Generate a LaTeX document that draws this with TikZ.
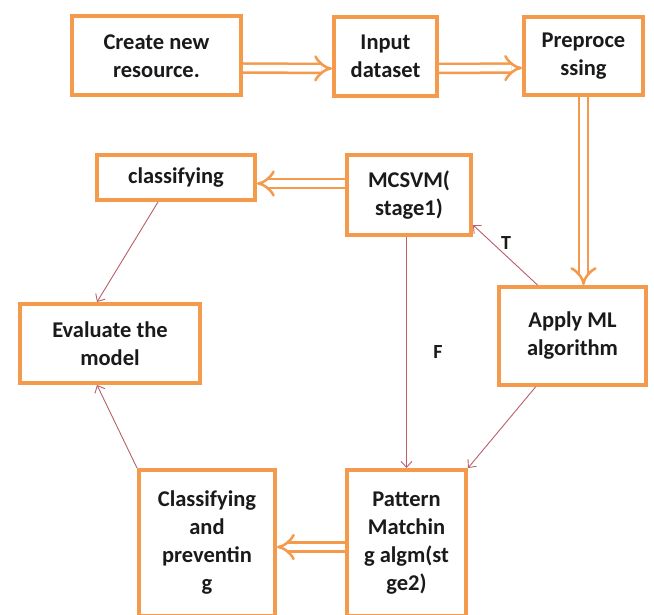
\documentclass[tikz,border=0pt]{standalone}
\usepackage{fontspec}
\setmainfont{Carlito}
\usetikzlibrary{arrows.meta}
\definecolor{boxorange}{HTML}{F39A4D}
\definecolor{thinline}{HTML}{B8606A}
\definecolor{txt}{HTML}{1A1A1A}
\begin{document}
\begin{tikzpicture}[x=1pt,y=-1pt,
  flowbox/.style={draw=boxorange, line width=4pt, fill=white, align=center,
    text=txt, font=\fontsize{22.5}{28}\selectfont\bfseries, inner sep=0pt},
  dbl/.style={draw=boxorange, line width=2.5pt, double=white, double distance=6.5pt,
    -{Implies}},
  thin/.style={draw=thinline, line width=0.9pt, -{Straight Barb[length=6pt,width=11pt]}},
  lbl/.style={text=txt, font=\fontsize{20}{24}\selectfont\bfseries}]
\useasboundingbox (0,0) rectangle (654,615);
\fill[white] (0,0) rectangle (654,615);
% nodes
\node[flowbox, minimum width=169pt, minimum height=79pt] (create) at (156.5,56) {Create new\\resource.};
\node[flowbox, minimum width=103pt, minimum height=79pt] (input) at (385.5,56.5) {Input\\dataset};
\node[flowbox, minimum width=119pt, minimum height=78pt] (pre) at (583.5,56) {Preproce\\ssing};
\node[flowbox, minimum width=158pt, minimum height=45pt] (classify) at (176,177.5) {classifying};
\node[flowbox, minimum width=124pt, minimum height=80pt] (mcsvm) at (409,195) {MCSVM(\\stage1)};
\node[flowbox, minimum width=180pt, minimum height=79pt] (eval) at (110,343.5) {Evaluate the\\model};
\node[flowbox, minimum width=147pt, minimum height=98pt] (apply) at (572.5,336) {Apply ML\\algorithm};
\node[flowbox, minimum width=136pt, minimum height=146pt] (classprev) at (207,543) {Classifying\\and\\preventin\\g};
\node[flowbox, minimum width=119pt, minimum height=146pt] (pattern) at (406.5,543) {Pattern\\Matchin\\g algm(st\\ge2)};
% double arrows
\draw[dbl] ([yshift=-12pt]create.east) -- ([yshift=-12pt]input.west);
\draw[dbl] ([yshift=-12pt]input.east) -- ([yshift=-12pt]pre.west);
\draw[dbl] (pre.south) -- (pre.south |- apply.north);
\coordinate (c1) at ([yshift=-6pt]classify.east);
\draw[dbl] (mcsvm.west |- c1) -- (c1);
\draw[dbl] ([yshift=-4pt]pattern.west) -- ([yshift=-4pt]classprev.east);
% thin arrows
\draw[thin] ([xshift=-18pt]classify.south) -- ([xshift=-13pt]eval.north);
\draw[thin] (classprev.north west) -- ([xshift=-13pt]eval.south);
\draw[thin] (pattern.north |- mcsvm.south) -- (pattern.north);
\draw[thin] ([xshift=-35pt]apply.north) -- ([yshift=12pt]mcsvm.south east);
\draw[thin] ([xshift=-37pt]apply.south) -- (pattern.north east);
\node[lbl] (tlabel) at (506,243) {T};
\node[lbl] (flabel) at (438,352) {F};
\end{tikzpicture}
\end{document}
